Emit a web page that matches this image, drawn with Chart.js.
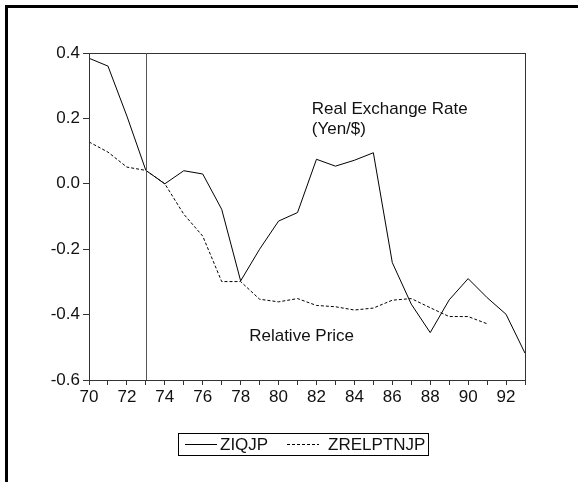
<!DOCTYPE html>
<html>
<head>
<meta charset="utf-8">
<script src="https://cdn.jsdelivr.net/npm/chart.js@4.4.3/dist/chart.umd.min.js"></script>
<style>
  html, body { margin: 0; padding: 0; background: #fff; }
  #wrap { width: 578px; height: 482px; position: relative; }
</style>
</head>
<body>
<div id="wrap"><canvas id="c" width="578" height="482"></canvas></div>
<script>
const years = [70, 71, 72, 73, 74, 75, 76, 77, 78, 79, 80, 81, 82, 83, 84, 85, 86, 87, 88, 89, 90, 91, 92, 93];
const ziqjp = [0.384, 0.36, 0.207, 0.041, 0.0, 0.04, 0.03, -0.078, -0.297, -0.2, -0.114, -0.088, 0.075, 0.054, 0.072, 0.095, -0.241, -0.368, -0.455, -0.355, -0.29, -0.348, -0.399, -0.518];
const zrelptnjp = [0.128, 0.097, 0.051, 0.041, 0.0, -0.093, -0.16, -0.299, -0.299, -0.353, -0.361, -0.351, -0.372, -0.376, -0.386, -0.38, -0.356, -0.351, -0.379, -0.406, -0.406, -0.428];
const yTicks = [-0.6, -0.4, -0.2, 0.0, 0.2, 0.4];
const breakYear = 73;
const notes = [
  { lines: ['Real Exchange Rate', '(Yen/$)'], x: 81.75, y: 0.255 },
  { lines: ['Relative Price'], x: 78.45, y: -0.44 }
];

const FONT = "'Liberation Sans', Arial, sans-serif";
const axisColor = '#333';

const decor = {
  id: 'decor',
  beforeDraw(chart) {
    const ctx = chart.ctx;
    ctx.save();
    ctx.fillStyle = '#000';
    ctx.fillRect(5, 5, 578 - 5, 3);
    ctx.fillRect(5, 5, 3, 482 - 5);
    ctx.restore();
  },
  afterDatasetsDraw(chart) {
    const ctx = chart.ctx;
    const a = chart.chartArea;
    const xs = chart.scales.x, ys = chart.scales.y;
    ctx.save();
    // frame
    ctx.strokeStyle = axisColor;
    ctx.lineWidth = 1;
    ctx.strokeRect(Math.round(a.left) + 0.5, Math.round(a.top) + 0.5, Math.round(a.right - a.left), Math.round(a.bottom - a.top));
    // break line
    const bx = Math.round(xs.getPixelForValue(breakYear)) + 0.5;
    ctx.strokeStyle = '#555';
    ctx.beginPath();
    ctx.moveTo(bx, a.top);
    ctx.lineTo(bx, a.bottom);
    ctx.stroke();
    // notes
    ctx.fillStyle = '#111';
    ctx.font = '17px ' + FONT;
    ctx.textBaseline = 'top';
    notes.forEach(n => {
      const px = xs.getPixelForValue(n.x);
      const py = ys.getPixelForValue(n.y);
      n.lines.forEach((t, i) => ctx.fillText(t, px, py + i * 20));
    });
    // legend box
    const lx = 178, ly = 433, lw = 250, lh = 22;
    ctx.strokeStyle = '#000';
    ctx.strokeRect(lx + 0.5, ly + 0.5, lw, lh);
    const cy = ly + lh / 2 + 0.5;
    const slots = [185, 287];
    chart.data.datasets.forEach((ds, i) => {
      const cx = slots[i];
      ctx.strokeStyle = ds.borderColor;
      ctx.lineWidth = 1;
      ctx.setLineDash(ds.borderDash || []);
      ctx.beginPath();
      ctx.moveTo(cx, Math.floor(cy) + 0.5);
      ctx.lineTo(cx + 32, Math.floor(cy) + 0.5);
      ctx.stroke();
      ctx.setLineDash([]);
      ctx.fillStyle = '#111';
      ctx.textBaseline = 'middle';
      ctx.fillText(ds.label, cx + (i === 0 ? 35 : 41), cy + 1);
    });
    ctx.restore();
  }
};

new Chart(document.getElementById('c'), {
  type: 'line',
  data: {
    datasets: [
      {
        label: 'ZIQJP',
        data: ziqjp.map((v, i) => ({ x: years[i], y: v })),
        borderColor: '#000',
        borderWidth: 1,
        pointRadius: 0,
        tension: 0
      },
      {
        label: 'ZRELPTNJP',
        data: zrelptnjp.map((v, i) => ({ x: years[i], y: v })),
        borderColor: '#000',
        borderWidth: 1,
        borderDash: [3, 2],
        pointRadius: 0,
        tension: 0
      }
    ]
  },
  options: {
    responsive: false,
    animation: false,
    layout: { padding: { left: 0, top: 53, right: 53, bottom: 72 } },
    plugins: { legend: { display: false }, tooltip: { enabled: false } },
    scales: {
      x: {
        type: 'linear',
        min: years[0],
        max: years[years.length - 1],
        afterFit(s) { s.height = 30; },
        border: { display: true, color: axisColor },
        grid: { drawOnChartArea: false, drawTicks: true, tickLength: 5, color: axisColor },
        ticks: {
          stepSize: 1,
          autoSkip: false,
          maxRotation: 0,
          padding: 2,
          color: '#111',
          font: { family: FONT, size: 17 },
          callback: v => (v % 2 === 0 ? String(v) : '')
        }
      },
      y: {
        min: yTicks[0],
        max: yTicks[yTicks.length - 1],
        afterFit(s) { s.width = 89; },
        afterBuildTicks(s) { s.ticks = yTicks.map(v => ({ value: v })); },
        border: { display: true, color: axisColor },
        grid: { drawOnChartArea: false, drawTicks: true, tickLength: 6, color: axisColor },
        ticks: {
          padding: 3,
          color: '#111',
          font: { family: FONT, size: 17 },
          callback: v => Number(v).toFixed(1)
        }
      }
    }
  },
  plugins: [decor]
});
</script>
</body>
</html>
